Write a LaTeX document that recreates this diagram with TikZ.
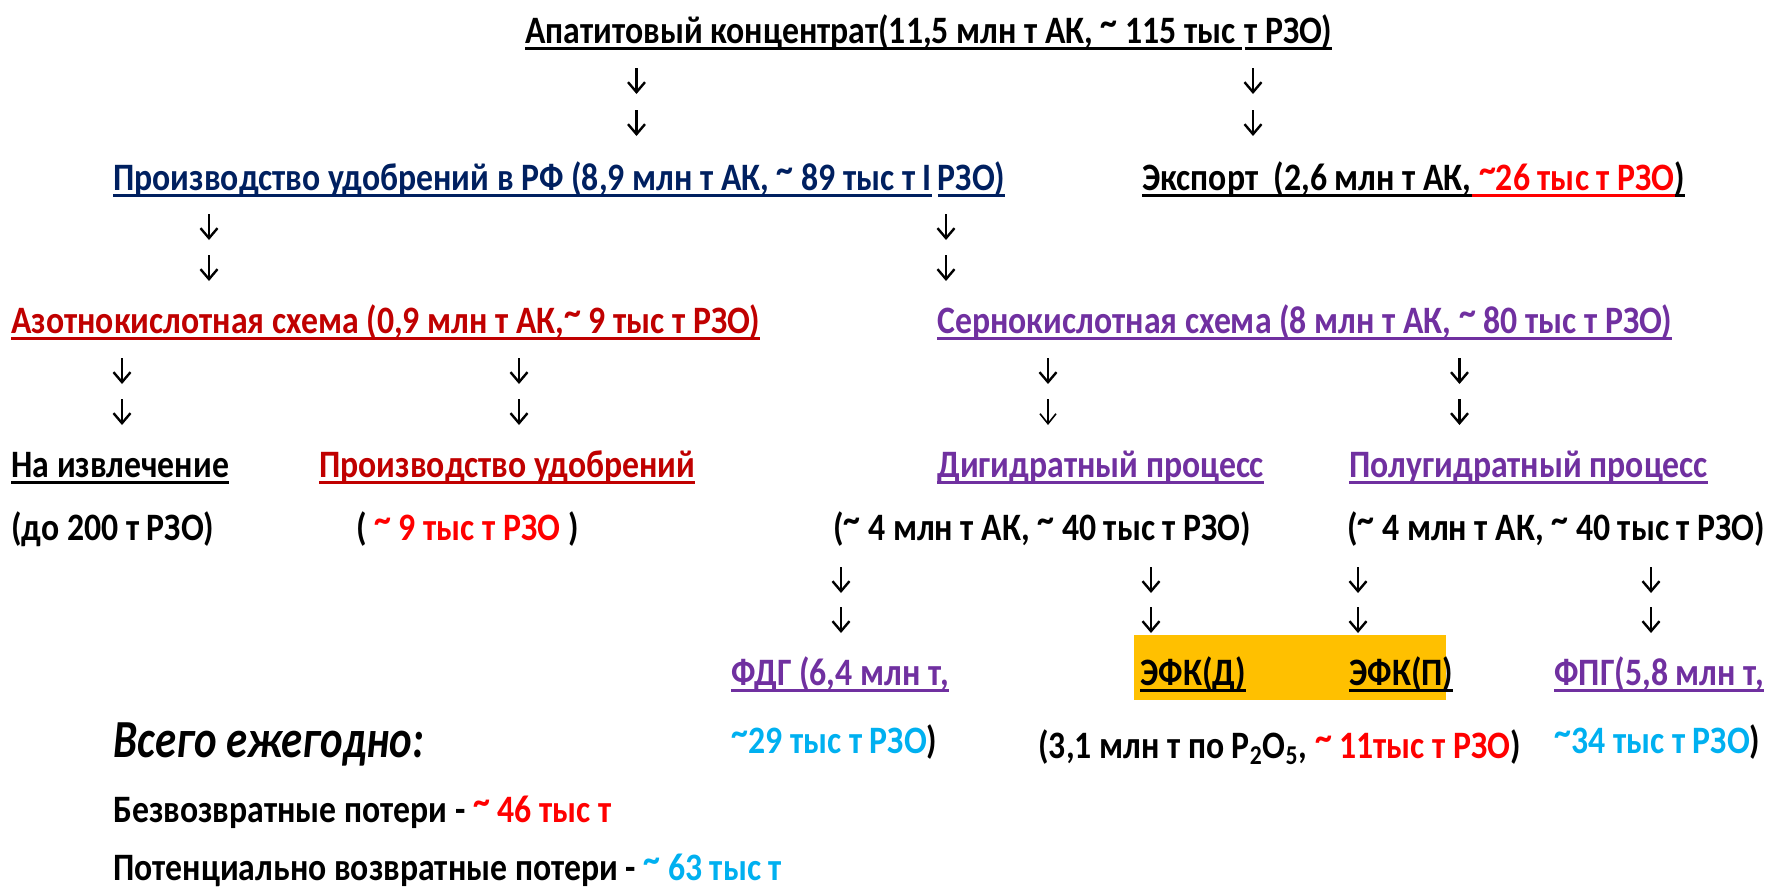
\documentclass[tikz,border=0pt]{standalone}
\usepackage{fontspec}
\setmainfont{Carlito}[FakeStretch=0.87]
\newfontfamily\itfam{Carlito}[FakeStretch=0.8]
\usetikzlibrary{arrows.meta}
\definecolor{navy}{HTML}{002060}
\definecolor{dred}{HTML}{C00000}
\definecolor{purp}{HTML}{7030A0}
\definecolor{rred}{HTML}{FF0000}
\definecolor{cyanb}{HTML}{00B0F0}
\definecolor{orng}{HTML}{FFC000}
\newcommand{\tld}{\raisebox{0.2em}{\textasciitilde}}
\newcommand{\fs}{\fontsize{19.4}{23}\selectfont\bfseries}
\newcommand{\myul}[1]{\begingroup\setbox0\hbox{#1}\rlap{\rule[-3.6pt]{\wd0}{1.4pt}}\box0\endgroup}
\tikzset{
  txt/.style={anchor=base west, inner sep=0pt, font=\fs},
  arr/.style={-{Straight Barb[length=5pt,width=8.5pt,line width=1.2pt]}, line width=1.2pt},
  thinarr/.style={-{Straight Barb[length=5pt,width=8pt,line width=0.8pt]}, line width=0.8pt},
}
\begin{document}
\begin{tikzpicture}[x=0.5pt,y=-0.5pt]
\path[use as bounding box] (0,0) rectangle (1770,891);
% highlight box
\node[fill=orng, inner sep=0pt, minimum width=156pt, minimum height=32.5pt, anchor=north west] (box) at (1134,635) {};
% row 0
\node[txt] (title) at (525,43) {\myul{Апатитовый концентрат(11,5 млн т АК, \tld{} 115 тыс\kern3pt}\kern1.5pt\myul{т РЗО)}};
% row 1
\node[txt, text=navy] (prod) at (113,190) {\myul{Производство удобрений в РФ (8,9 млн т АК, \tld{} 89 тыс т I}\kern3pt\myul{РЗО)}};
\node[txt] (exp) at (1142,190) {\myul{Экспорт\ \ (2,6 млн т АК,}{\color{rred}\myul{\ \tld26 тыс т РЗО}}\myul{)}};
% row 2
\node[txt, text=dred] (azot) at (11,333) {\myul{Азотнокислотная схема (0,9 млн т АК,\tld{} 9 тыс т РЗО)}};
\node[txt, text=purp] (sern) at (937,333) {\myul{Сернокислотная схема (8 млн т АК, \tld{} 80 тыс т РЗО)}};
% row 3
\node[txt] (izvl) at (11,477) {\myul{На извлечение}};
\node[txt, text=dred] (udob) at (319,477) {\myul{Производство удобрений}};
\node[txt, text=purp] (digi) at (937,477) {\myul{Дигидратный процесс}};
\node[txt, text=purp] (polu) at (1349,477) {\myul{Полугидратный процесс}};
% row 4
\node[txt] (izvlv) at (11,540) {(до 200 т РЗО)};
\node[txt] (udobv) at (356,540) {( {\color{rred}\tld{} 9 тыс т РЗО} )};
\node[txt] (digiv) at (833,540) {(\tld{} 4 млн т АК, \tld{} 40 тыс т РЗО)};
\node[txt] (poluv) at (1347,540) {(\tld{} 4 млн т АК, \tld{} 40 тыс т РЗО)};
% row 5
\node[txt, text=purp] (fdg) at (731,685) {\myul{ФДГ (6,4 млн т,}};
\node[txt] (efkd) at (1140,685) {\myul{ЭФК(Д)}};
\node[txt] (efkp) at (1349,685) {\myul{ЭФК(П)}};
\node[txt, text=purp] (fpg) at (1554,685) {\myul{ФПГ(5,8 млн т,}};
% row 6
\node[txt, font=\itfam\fontsize{26.8}{30}\selectfont\bfseries\itshape] (vsego) at (113,757) {Всего ежегодно:};
\node[txt] (fdgv) at (731,753) {{\color{cyanb}\tld29 тыс т РЗО})};
\node[txt] (efkv) at (1038,758) {(3,1 млн т по P\textsubscript{2}O\textsubscript{5}, {\color{rred}\tld{} 11тыс т РЗО})};
\node[txt] (fpgv) at (1554,753) {{\color{cyanb}\tld34 тыс т РЗО})};
% rows 7-8
\node[txt] (bezv) at (113,822) {Безвозвратные потери - {\color{rred}\tld{} 46 тыс т}};
\node[txt] (potv) at (113,880) {Потенциально возвратные потери - {\color{cyanb}\tld{} 63 тыс т}};
% arrows (pairs of down arrows)
\foreach \n/\x/\ya/\yb/\yc/\yd/\st in {a1/636.5/68/94/110/136/arr, a2/1253/68/94/110/136/arr,
  b1/209/214/240/255/281/arr, b2/946/214/240/255/281/arr,
  c1/122/358/384/399/425/arr, c2/519/358/384/399/425/arr, c3/1048/358/384/399/425/thinarr, c4/1459.5/358/384/399/425/arr,
  d1/841/567/593/607/633/arr, d2/1151/567/593/607/633/arr, d3/1358/567/593/607/633/arr, d4/1651/567/593/607/633/arr}{
  \coordinate (\n-1s) at (\x,\ya);
  \coordinate (\n-1e) at (\x,\yb);
  \coordinate (\n-2s) at (\x,\yc);
  \coordinate (\n-2e) at (\x,\yd);
  \draw[arr] (\n-1s) -- (\n-1e);
  \draw[\st] (\n-2s) -- (\n-2e);
}
\end{tikzpicture}
\end{document}
